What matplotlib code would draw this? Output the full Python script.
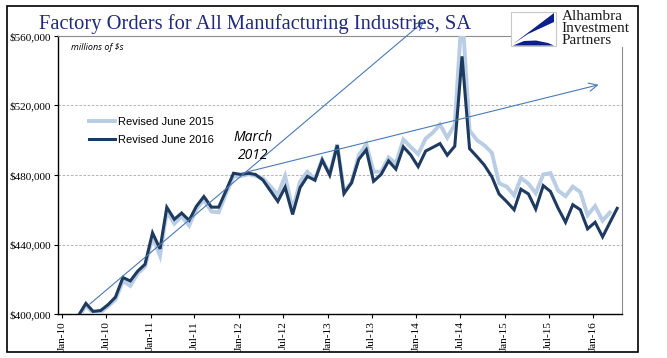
import numpy as np
import pandas as pd
import matplotlib
matplotlib.use("Agg")
import matplotlib.pyplot as plt
import matplotlib.dates as mdates
from matplotlib.patches import Rectangle, Polygon

# ---------------------------------------------------------------------------
# Data (millions of $, monthly)
# ---------------------------------------------------------------------------
REV_2016 = [
    392000, 395000, 399000, 406100, 401500, 402000, 405300, 409700, 421000, 419000, 424700, 428600,
    446700, 437500, 461400, 454500, 458100, 453900, 462000, 467600, 461500, 461500, 471200, 481000,
    480300, 481000, 480300, 477000, 471000, 464800, 473000, 457300, 472800, 479200, 477000, 488600,
    480000, 497100, 469300, 475500, 489000, 494500, 476400, 480300, 488100, 483400, 496200, 491600,
    484800, 493800, 495800, 498100, 491400, 496600, 548300, 495200, 490500, 485700, 479000, 469000,
    464700, 460000, 471800, 469100, 460400, 473900, 470500, 461000, 452800, 462900, 460000, 449000,
    452800, 444400, 452400, 460800,
]
REV_2015 = [
    391000, 394000, 398000, 405000, 400500, 401000, 404400, 408200, 419000, 416200, 423400, 427200,
    444400, 433500, 459000, 452000, 456200, 450900, 460400, 465700, 459000, 458500, 469500, 479000,
    479400, 480500, 479500, 478000, 473500, 468600, 479400, 460000, 476200, 481900, 477500, 489000,
    480500, 497700, 470500, 475600, 491400, 497700, 481900, 481900, 490100, 486700, 500400, 496200,
    492000, 501000, 504200, 509100, 501500, 509100, 575000, 505700, 500000, 497100, 492800, 475200,
    473300, 468300, 478300, 475000, 469500, 480300, 481100, 471100, 467800, 473300, 470200, 456900,
    462100, 453700, 458300,
]
START = "2010-01-01"
SERIES_LABELS = ["Revised June 2015", "Revised June 2016"]
Y_TICKS = [400000, 440000, 480000, 520000, 560000]
GRID_LEVELS = [440000, 480000, 520000]

# trend arrows: (start date, start value, end date, end value)
ARROWS = [
    ("2010-04-25", 405700, "2014-02-03", 568600),
    ("2012-01-12", 481000, "2016-01-23", 531900),
]

TITLE = "Factory Orders for All Manufacturing Industries, SA"

DARK = "#1f3a5f"
LIGHT = "#b9cde5"
ARROW_C = "#4a7ab5"
NAVY = "#1f2a7a"


def month_dates(n):
    # points sit a little after the first of the month, like the Excel date axis
    return pd.date_range(START, periods=n, freq="MS") + pd.Timedelta(days=8)


fig = plt.figure(figsize=(6.67, 3.58), dpi=100)
W, H = 667, 358
ax = fig.add_axes([58 / W, 1 - 314 / H, (622 - 58) / W, (314 - 36) / H])

d15 = month_dates(len(REV_2015))
d16 = month_dates(len(REV_2016))
ax.plot(d15, REV_2015, color=LIGHT, lw=2.8, label=SERIES_LABELS[0], zorder=3,
        solid_joinstyle="miter")
ax.plot(d16, REV_2016, color=DARK, lw=2.2, label=SERIES_LABELS[1], zorder=4,
        solid_joinstyle="miter")

for lvl in GRID_LEVELS:
    ax.axhline(lvl, color="#a6a6a6", lw=0.6, ls=(0, (3, 2)), zorder=1)

ax.set_ylim(400000, 560000)
ax.set_xlim(pd.Timestamp("2009-12-15"), pd.Timestamp("2016-04-29"))
ax.set_yticks(Y_TICKS)
ax.set_yticklabels([f"${v:,.0f}" for v in Y_TICKS], fontfamily="Liberation Serif",
                   fontsize=8)
ax.xaxis.set_major_locator(mdates.MonthLocator(bymonth=[1, 7]))
ax.xaxis.set_major_formatter(mdates.DateFormatter("%b-%y"))
for lab in ax.get_xticklabels():
    lab.set_fontfamily("Liberation Serif")
    lab.set_fontsize(8)
    lab.set_rotation(90)
ax.tick_params(axis="both", direction="out", length=3, width=0.8, pad=2, colors="black")

for s in ("left", "bottom"):
    ax.spines[s].set_color("black")
    ax.spines[s].set_linewidth(1.0)
for s in ("top", "right"):
    ax.spines[s].set_color("#8c8c8c")
    ax.spines[s].set_linewidth(0.8)

for x0, y0, x1, y1 in ARROWS:
    ax.annotate("", xy=(pd.Timestamp(x1), y1), xytext=(pd.Timestamp(x0), y0),
                xycoords="data", annotation_clip=False, zorder=5,
                arrowprops=dict(arrowstyle="->,head_length=0.6,head_width=0.3",
                                color=ARROW_C, lw=0.8, shrinkA=0, shrinkB=0))

ax.text(0.346, 0.6025, "March\n2012", transform=ax.transAxes, ha="center",
        va="center", fontsize=10, style="italic", fontfamily="Open Sans",
        linespacing=1.25, zorder=6)
ax.text(0.023, 0.957, "millions of $s", transform=ax.transAxes, ha="left",
        va="center", fontsize=6.5, style="italic", fontfamily="Open Sans")

ax.legend(loc="upper left", bbox_to_anchor=(0.046, 0.73), frameon=False,
          prop={"family": "Liberation Sans", "size": 8}, handlelength=2.3,
          handletextpad=0.25, borderpad=0, labelspacing=0.75)

# overlay in pixel coordinates for title, logo and outer frame
ov = fig.add_axes([0, 0, 1, 1], zorder=10)
ov.set_xlim(0, W)
ov.set_ylim(H, 0)
ov.axis("off")
ov.patch.set_alpha(0)

ov.text(39, 29.5, TITLE, fontsize=14.8, fontfamily="Liberation Serif", color=NAVY,
        va="baseline", ha="left")

ov.add_patch(Rectangle((511, 8), 125, 39, facecolor="white", edgecolor="none"))
ov.add_patch(Rectangle((511, 12), 45, 34, facecolor="white", edgecolor="#c8c8c8", lw=0.8))
ov.add_patch(Polygon([(513, 44), (554, 13), (554, 22), (528, 34)], closed=True,
                     facecolor="#0d1f8c", edgecolor="none"))
ov.add_patch(Polygon([(513, 45.5), (554, 45.5), (548, 43), (536, 40.5), (524, 41)],
                     closed=True, facecolor="#0d1f8c", edgecolor="none"))
for txt, yb in (("Alhambra", 20.5), ("Investment", 32), ("Partners", 44)):
    ov.text(561.5, yb, txt, fontsize=11, fontfamily="Liberation Serif",
            color="#1a1a1a", va="baseline", ha="left")

ov.add_patch(Rectangle((7, 6), 631, 346, fill=False, edgecolor="black", lw=1.2))

fig.savefig("out.png", dpi=100)
